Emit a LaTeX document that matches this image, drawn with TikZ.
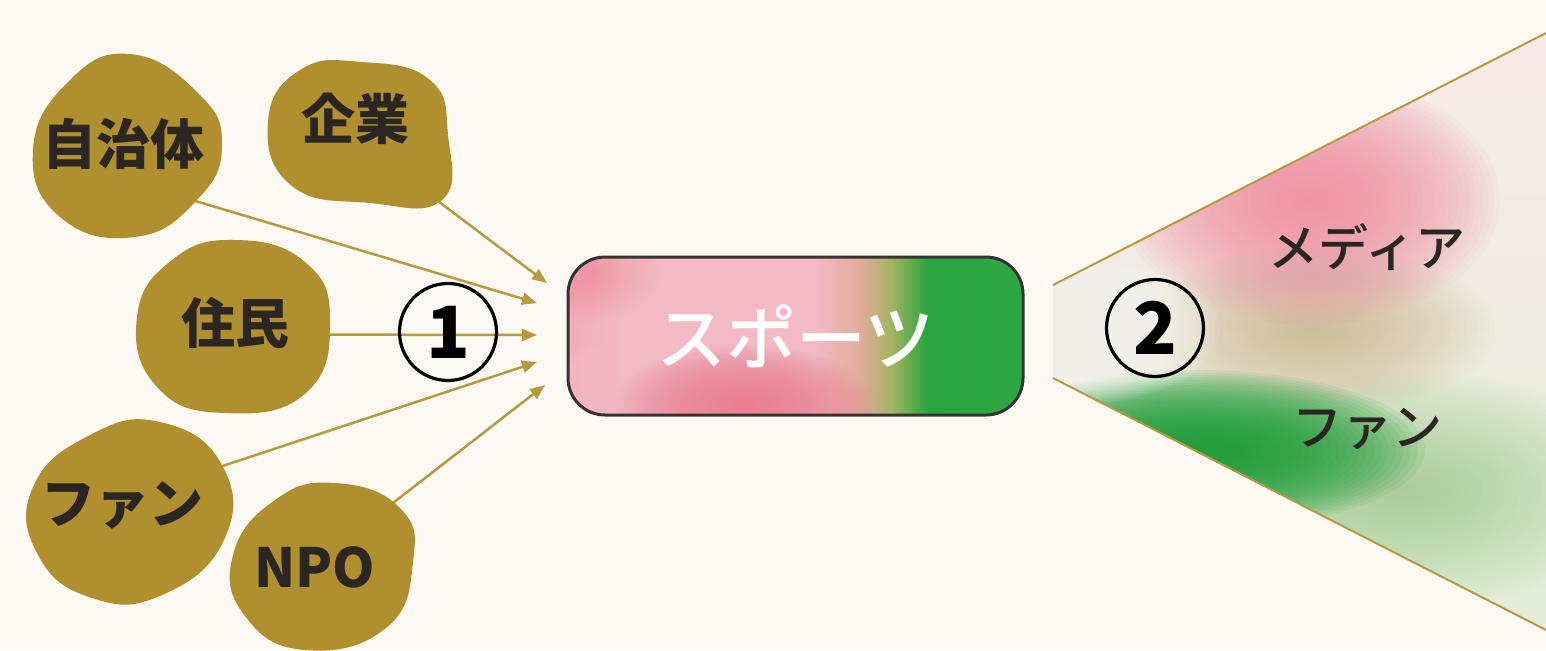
\documentclass[tikz,border=0pt]{standalone}
\usepackage{fontspec}
\setmainfont{Noto Sans CJK JP}
\newfontfamily\jpmed{Noto Sans CJK JP}[UprightFont=* Medium]
\usetikzlibrary{arrows.meta}
\pgfdeclarelayer{arrowlayer}
\pgfsetlayers{arrowlayer,main}
\definecolor{bg}{HTML}{FCF9F4}
\definecolor{gold}{HTML}{B08F2F}
\definecolor{goldline}{HTML}{B89A3E}
\definecolor{ink}{HTML}{2B2622}
\definecolor{rim}{HTML}{353232}
\definecolor{pkA}{HTML}{F3ABBC}
\definecolor{pkB}{HTML}{F3BAC4}
\definecolor{tanA}{HTML}{E2AC9C}
\definecolor{olv}{HTML}{A3B462}
\definecolor{grA}{HTML}{2AA43F}
\definecolor{grB}{HTML}{2EA743}
\definecolor{pkDark}{HTML}{EA7A90}
\definecolor{pkLight}{HTML}{F8D4DA}
\definecolor{pkCorner}{HTML}{F094A9}
\definecolor{fantop}{HTML}{F9EAE9}
\definecolor{fanmid}{HTML}{FAF4F0}
\definecolor{fanbot}{HTML}{E2EDD8}
\definecolor{fanpink}{HTML}{F08DA2}
\definecolor{fantan}{HTML}{CDB48A}
\definecolor{fangreen}{HTML}{1E9E38}
\definecolor{fangreenL}{HTML}{93C783}
\definecolor{tipwhite}{HTML}{FDFAF6}
\pgfdeclarehorizontalshading{sportshade}{100bp}{color(0bp)=(pkA); color(25bp)=(pkA); color(31bp)=(pkB); color(52bp)=(pkB); color(57bp)=(tanA); color(60.5bp)=(olv); color(64.5bp)=(grA); color(75bp)=(grB); color(100bp)=(grB)}
% soft blob: colour, cx, cy, rx, ry (px), layer opacity
\newcommand\softblob[6]{%
  \foreach \k in {1,...,32}{\fill[#1, opacity=#6] (#2,#3) ellipse ({#4*\k/32*0.5pt} and {#5*\k/32*0.5pt});}}
\tikzset{
  blob/.style={fill=gold},
  blobtext/.style={circle, inner sep=0pt, text=ink, font=\bfseries\fontsize{27}{27}\selectfont},
  arr/.style={draw=goldline, line width=1.25pt, -{Triangle[length=7.5pt,width=6pt]}},
  numcirc/.style={circle, draw=black, line width=1.6pt, minimum size=48.5pt, inner sep=0pt, font=\bfseries\fontsize{36}{36}\selectfont},
  sportrect/.style={rounded corners=18.5pt, outer sep=0pt, minimum width=227.5pt, minimum height=79pt, shading=sportshade},
  sportrim/.style={draw=rim, line width=1.5pt, rounded corners=18.5pt},
  sporttext/.style={text=white, font=\jpmed\fontsize{35}{35}\selectfont},
  fantext/.style={text=ink, font=\jpmed\fontsize{25}{25}\selectfont},
  fanedge/.style={draw=goldline, line width=1pt}
}
\begin{document}
\begin{tikzpicture}[x=0.5pt,y=-0.5pt]
\useasboundingbox (0,0) rectangle (1546,650);
% blobs
\fill[blob] plot[smooth cycle, tension=0.8] coordinates {(130,54) (198,93) (222,145) (197,200) (135,237) (60,217) (33,150) (68,82)};
\fill[blob] plot[smooth cycle, tension=0.8] coordinates {(300,70) (362,62) (430,80) (448,135) (442,200) (370,203) (292,186) (268,122)};
\fill[blob] plot[smooth cycle, tension=0.8] coordinates {(235,240) (305,262) (330,320) (306,393) (225,413) (157,387) (137,317) (172,260)};
\fill[blob] plot[smooth cycle, tension=0.8] coordinates {(160,422) (222,465) (224,540) (162,595) (92,598) (38,555) (33,487) (90,435)};
\fill[blob] plot[smooth cycle, tension=0.8] coordinates {(335,483) (400,508) (413,562) (386,628) (305,650) (245,616) (233,555) (275,500)};
% blob labels
\node[blobtext, minimum size=62pt] (jichitai) at (123,144) {自治体};
\node[blobtext, minimum size=70pt] (kigyo) at (355,119) {企業};
\node[blobtext, minimum size=66pt] (jumin) at (235,323) {住民};
\node[blobtext, minimum size=74pt] (fan1) at (122,505) {ファン};
\node[blobtext, minimum size=72pt] (npo) at (315,567) {NPO};
% arrow tips
\coordinate (t1) at (547,283);
\coordinate (t2) at (537,303);
\coordinate (t3) at (537,335);
\coordinate (t4) at (537,362);
\coordinate (t5) at (545,385);
\begin{pgfonlayer}{arrowlayer}
\fill[bg] (0,0) rectangle (1546,650);
\draw[arr] (kigyo.-50) -- (t1);
\draw[arr] (jichitai.-40) -- (t2);
\draw[arr] (jumin.-10.5) -- (t3);
\draw[arr] (fan1.22.7) -- (t4);
\draw[arr] (npo.40.2) -- (t5);
\end{pgfonlayer}
\node[numcirc] (n1) at (448,332) {1};
% sports box
\node[sportrect] (sportbox) at (795.5,336) {};
\begin{scope}
\clip[rounded corners=18.5pt] (sportbox.south west) rectangle (sportbox.north east);
\softblob{pkCorner}{590}{272}{70}{50}{0.022}
\softblob{pkLight}{612}{398}{80}{55}{0.032}
\softblob{pkDark}{745}{405}{130}{60}{0.054}
\end{scope}
\draw[sportrim] (sportbox.south west) rectangle (sportbox.north east);
\node[sporttext] (sport) at (sportbox.center) {スポーツ};
% fan region
\coordinate (fTL) at (1053,285);
\coordinate (fTR) at (1546,33);
\coordinate (fBR) at (1546,630);
\coordinate (fBL) at (1053,378);
\begin{scope}
\clip (fTL) -- (fTR) -- (fBR) -- (fBL) -- cycle;
\shade[top color=fantop, middle color=fanmid, bottom color=fanbot] (1040,20) rectangle (1560,640);
\softblob{fangreenL}{1400}{490}{240}{120}{0.029}
\softblob{fantan}{1315}{330}{180}{85}{0.034}
\softblob{fanpink}{1310}{200}{190}{125}{0.058}
\softblob{fangreen}{1195}{450}{230}{80}{0.089}
\softblob{tipwhite}{1070}{330}{150}{75}{0.085}
\end{scope}
\draw[fanedge] (fTL) -- (fTR);
\draw[fanedge] (fBL) -- (fBR);
\node[numcirc] (n2) at (1155,328) {2};
\node[fantext] (media) at (1367,247) {メディア};
\node[fantext] (fan2) at (1367,429) {ファン};
\end{tikzpicture}
\end{document}
